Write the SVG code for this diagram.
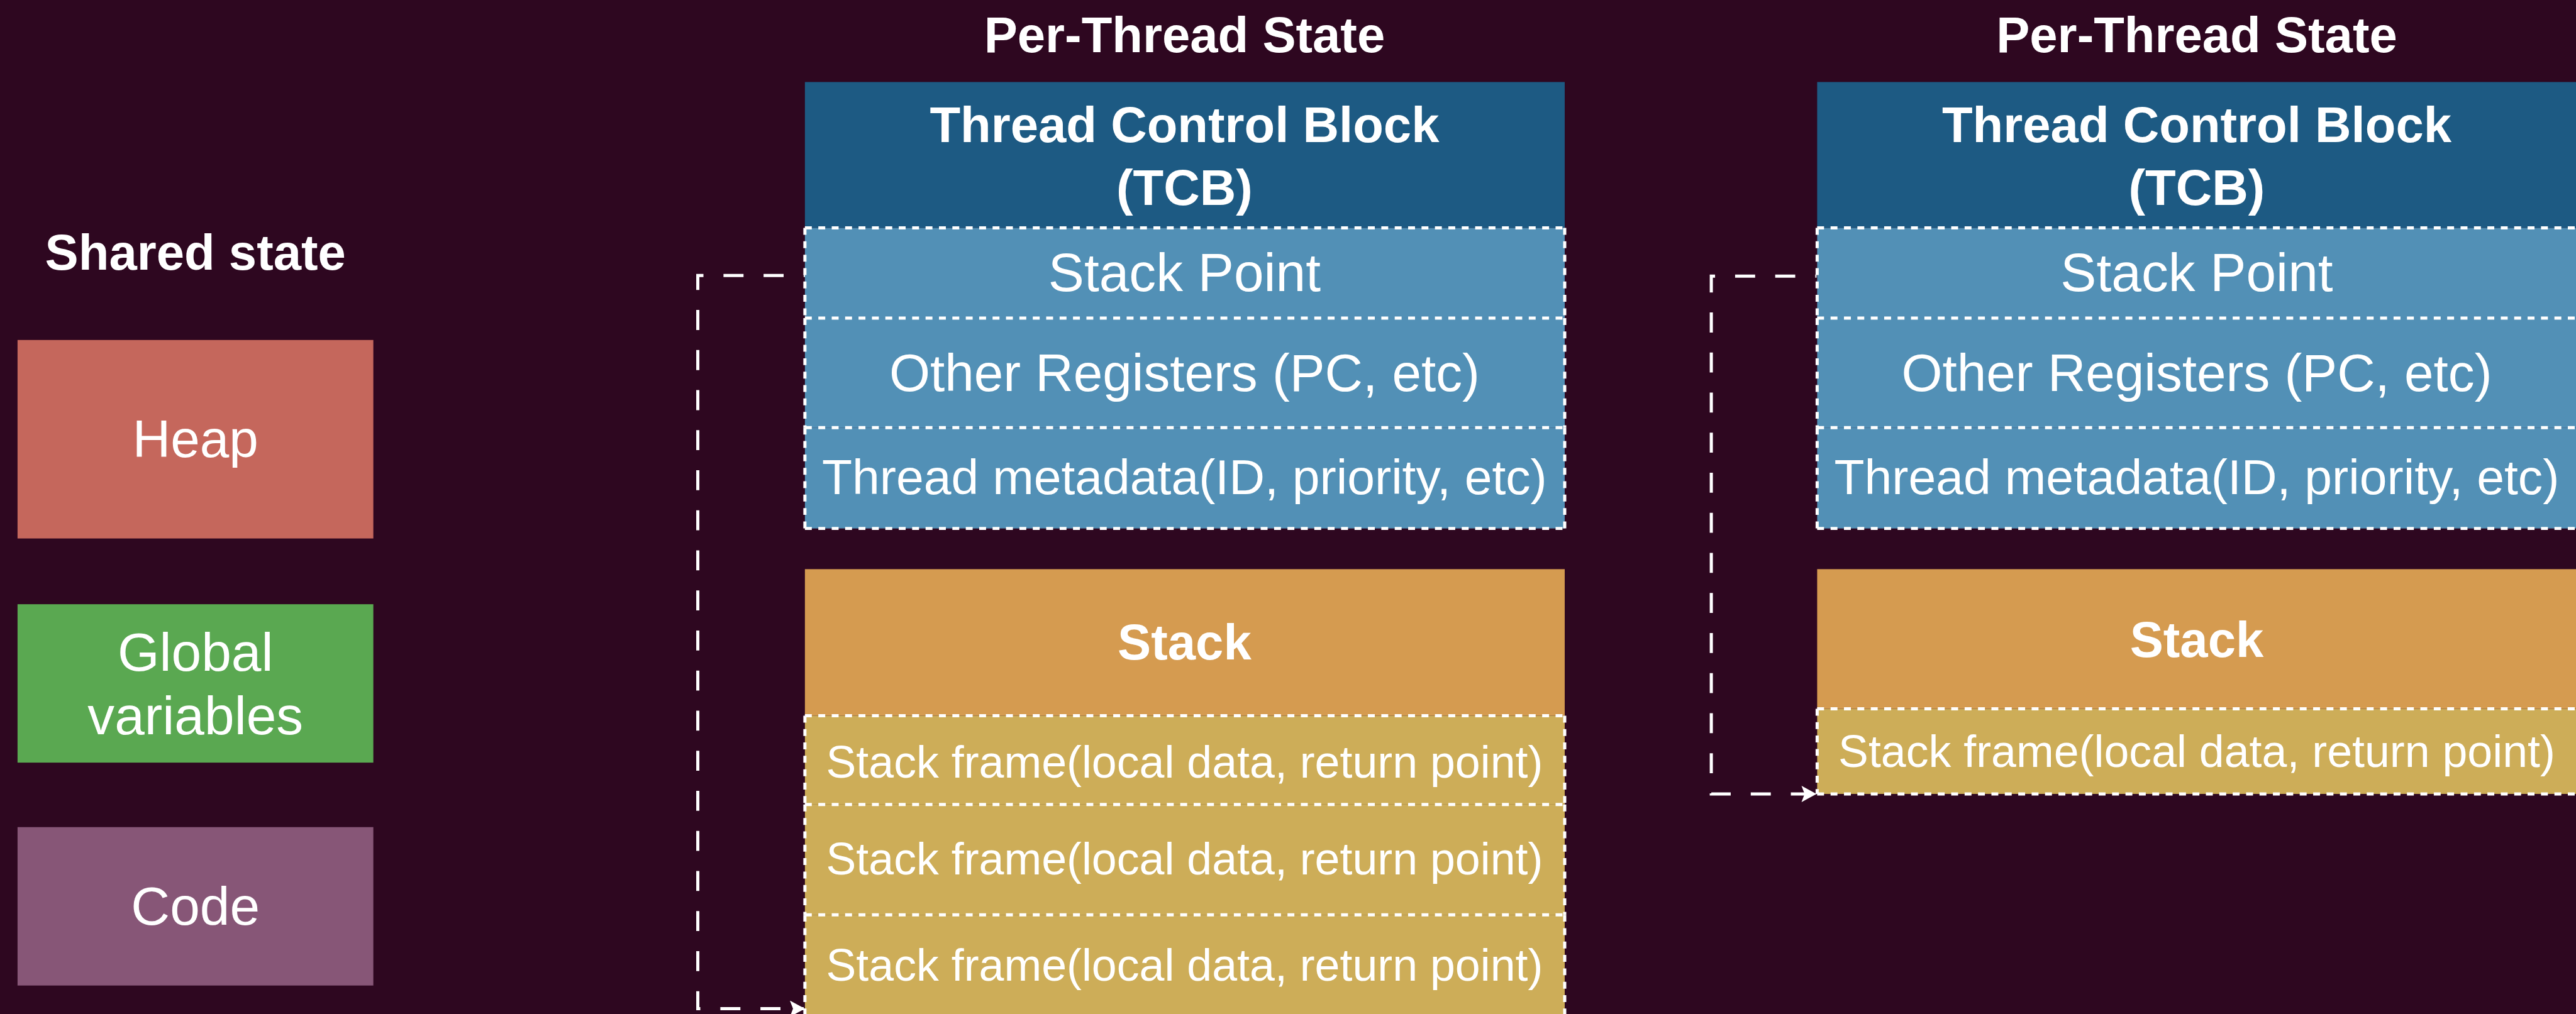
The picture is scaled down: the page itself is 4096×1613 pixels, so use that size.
<svg xmlns="http://www.w3.org/2000/svg" width="4096" height="1613" viewBox="0 0 4096 1613">
<style>
.t{font-family:"Liberation Sans",Arial,Helvetica,sans-serif;fill:#ffffff;text-anchor:middle}
.b{font-weight:bold;font-size:80px}
.r86{font-size:86px}
.r84{font-size:84px}
.r79{font-size:79px}
.r72{font-size:72px}
.row{fill:none;stroke:#ffffff;stroke-width:5;stroke-dasharray:11 10.4}
.tcbh{fill:#1d5a83}
.tcbr{fill:#5290b6}
.stk{fill:#d59b50}
.frm{fill:#cdad58}
.conn{fill:none;stroke:#ffffff;stroke-width:5;stroke-dasharray:32 32}
</style>
<defs>
<marker id="arr" markerUnits="userSpaceOnUse" markerWidth="26" markerHeight="28" refX="22" refY="13" orient="auto">
<path d="M0,0 L24,13 L0,26 L5,13 z" fill="#ffffff"/>
</marker>
</defs>
<rect x="0" y="0" width="4096" height="1613" fill="#2e0720"/>
<g transform="scale(0.996)">
<g id="shared">
<text class="t b" x="312" y="431">Shared state</text>
<g id="heap"><rect x="28" y="543" width="568" height="317" fill="#c5675c"/><text class="t r84" x="312" y="730">Heap</text></g>
<g id="globals"><rect x="28" y="965" width="568" height="253" fill="#5aa851"/><text class="t r86" x="312" y="1071">Global</text><text class="t r86" x="312" y="1173">variables</text></g>
<g id="code"><rect x="28" y="1321" width="568" height="253" fill="#875677"/><text class="t r86" x="312" y="1477">Code</text></g>
</g>
<g id="thread1">
<text class="t b" x="1891" y="83">Per-Thread State</text>
<g id="t1-tcb"><rect class="tcbh" x="1285" y="131" width="1213" height="233"/><text class="t b" x="1891" y="227">Thread Control Block</text><text class="t b" x="1891" y="327">(TCB)</text></g>
<g id="t1-sp"><rect class="tcbr" x="1285" y="364" width="1213" height="144"/><path class="row" d="M1285,364 H2498 M1285,364 V508 M2498,364 V508"/><text class="t r86" x="1891" y="465">Stack Point</text></g>
<g id="t1-regs"><rect class="tcbr" x="1285" y="508" width="1213" height="175"/><path class="row" d="M1285,508 H2498 M1285,508 V683 M2498,508 V683"/><text class="t r84" x="1891" y="625">Other Registers (PC, etc)</text></g>
<g id="t1-meta"><rect class="tcbr" x="1285" y="683" width="1213" height="161"/><path class="row" d="M1285,683 H2498 M1285,683 V844 M2498,683 V844 M1285,844 H2498"/><text class="t r79" x="1891" y="789">Thread metadata(ID, priority, etc)</text></g>
<g id="t1-stack"><rect class="stk" x="1285" y="909" width="1213" height="234"/><text class="t b" x="1891" y="1053">Stack</text></g>
<g id="t1-f1"><rect class="frm" x="1285" y="1143" width="1213" height="142"/><path class="row" d="M1285,1143 H2498 M1285,1143 V1285 M2498,1143 V1285"/><text class="t r72" x="1891" y="1242">Stack frame(local data, return point)</text></g>
<g id="t1-f2"><rect class="frm" x="1285" y="1285" width="1213" height="176"/><path class="row" d="M1285,1285 H2498 M1285,1285 V1461 M2498,1285 V1461"/><text class="t r72" x="1891" y="1397">Stack frame(local data, return point)</text></g>
<g id="t1-f3"><rect class="frm" x="1285" y="1461" width="1213" height="200"/><path class="row" d="M1285,1461 H2498 M1285,1461 V1661 M2498,1461 V1661"/><text class="t r72" x="1891" y="1566">Stack frame(local data, return point)</text></g>
</g>
<g id="thread2">
<text class="t b" x="3507" y="83">Per-Thread State</text>
<g id="t2-tcb"><rect class="tcbh" x="2901" y="131" width="1213" height="233"/><text class="t b" x="3507" y="227">Thread Control Block</text><text class="t b" x="3507" y="327">(TCB)</text></g>
<g id="t2-sp"><rect class="tcbr" x="2901" y="364" width="1213" height="144"/><path class="row" d="M2901,364 H4114 M2901,364 V508"/><text class="t r86" x="3507" y="465">Stack Point</text></g>
<g id="t2-regs"><rect class="tcbr" x="2901" y="508" width="1213" height="175"/><path class="row" d="M2901,508 H4114 M2901,508 V683"/><text class="t r84" x="3507" y="625">Other Registers (PC, etc)</text></g>
<g id="t2-meta"><rect class="tcbr" x="2901" y="683" width="1213" height="161"/><path class="row" d="M2901,683 H4114 M2901,683 V844 M2901,844 H4114"/><text class="t r79" x="3507" y="789">Thread metadata(ID, priority, etc)</text></g>
<g id="t2-stack"><rect class="stk" x="2901" y="909" width="1213" height="223"/><text class="t b" x="3507" y="1049">Stack</text></g>
<g id="t2-f1"><rect class="frm" x="2901" y="1132" width="1213" height="136"/><path class="row" d="M2901,1132 H4114 M2901,1132 V1268 M2901,1268 H4114"/><text class="t r72" x="3507" y="1225">Stack frame(local data, return point)</text></g>
</g>
<g id="connectors">
<path class="conn" stroke-dashoffset="30" d="M1285,440 H1114 V1611 H1283" marker-end="url(#arr)"/>
<path class="conn" stroke-dashoffset="30" d="M2900,441 H2732 V1268 H2898" marker-end="url(#arr)"/>
</g>
</g>
</svg>
